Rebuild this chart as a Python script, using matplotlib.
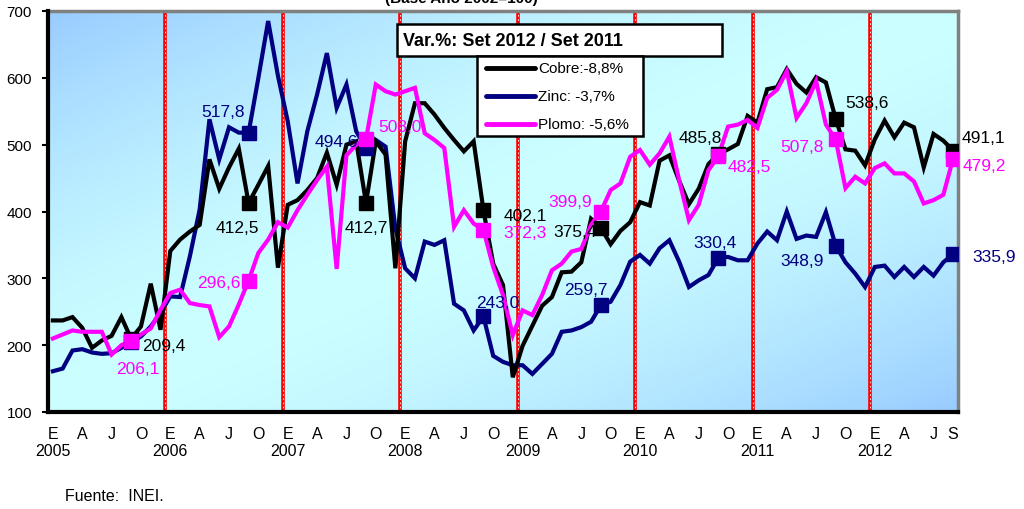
import numpy as np
import matplotlib
matplotlib.use("Agg")
import matplotlib.pyplot as plt
from matplotlib.patches import Rectangle
from matplotlib.lines import Line2D

plt.rcParams['font.family'] = ['Liberation Sans', 'DejaVu Sans']

# ---------------- data ----------------
month_letters = ['E', 'A', 'J', 'O']
years = [2005, 2006, 2007, 2008, 2009, 2010, 2011, 2012]
last_label = 'S'

cobre = [237, 237, 242, 226, 196, 207, 214, 242, 209.4, 228, 292, 223,
         341, 358, 370, 380, 478, 434, 466, 494, 412.5, 440, 468, 316,
         410, 417, 432, 450, 488, 440, 500, 505, 412.7, 505, 485, 315,
         505, 562, 562, 545, 525, 507, 490, 505, 402.1, 322, 290, 152,
         199, 229, 259, 272, 309, 310, 324, 389, 375.4, 351, 371, 384,
         414, 409, 476, 484, 446, 411, 434, 471, 485.8, 493, 501, 543,
         533, 583, 586, 613, 591, 578, 601, 593, 538.6, 493, 491, 469,
         508, 536, 511, 533, 526, 466, 516, 506, 491.1]

zinc = [161, 165, 192, 194, 189, 187, 188, 196, 205, 213, 228, 248,
        273, 272, 333, 403, 538, 478, 526, 518, 517.8, 600, 685, 603,
        535, 442, 520, 575, 637, 555, 590, 520, 494.6, 507, 497, 375,
        315, 300, 355, 350, 357, 262, 252, 222, 243.0, 184, 175, 170,
        170, 157, 172, 187, 220, 222, 227, 235, 259.7, 265, 290, 325,
        335, 322, 345, 357, 325, 287, 297, 305, 330.4, 332, 327, 327,
        352, 370, 357, 400, 359, 364, 362, 399, 348.9, 324, 307, 287,
        317, 319, 302, 317, 302, 317, 304, 324, 335.9]

plomo = [210, 216, 222, 220, 220, 220, 186, 200, 206.1, 216, 225, 253,
         278, 283, 263, 260, 258, 212, 228, 261, 296.6, 338, 358, 384,
         376, 402, 425, 447, 467, 314, 484, 500, 508.0, 590, 580, 575,
         580, 585, 517, 507, 495, 377, 402, 382, 372.3, 317, 275, 215,
         252, 245, 275, 312, 322, 340, 344, 380, 399.9, 432, 442, 482,
         492, 470, 487, 512, 447, 387, 410, 462, 482.5, 527, 530, 537,
         525, 570, 582, 610, 540, 562, 595, 530, 507.8, 435, 452, 442,
         465, 472, 457, 457, 445, 412, 417, 425, 479.2]

series_names = ['Cobre:-8,8%', 'Zinc: -3,7%', 'Plomo: -5,6%']
legend_title = 'Var.%: Set 2012 / Set 2011'
top_title = '(Base Año 2002=100)'
source_text = 'Fuente:  INEI.'

# ---------------- style ----------------
W, H = 1024, 510
col_cobre = '#000000'
col_zinc = '#000080'
col_plomo = '#FF00FF'

fig = plt.figure(figsize=(W / 100, H / 100), dpi=100)
ax = fig.add_axes([48 / W, 97 / H, 910 / W, 401 / H])

n = len(cobre)
x = np.arange(n)
ax.set_xlim(-0.5, n - 0.5)
ax.set_ylim(100, 700)

# gradient background (diagonal: blue - cyan - blue)
gy, gx = np.mgrid[0:1:200j, 0:1:300j]
t = (gx + gy) / 2.0  # gy=0 at top row (imshow origin upper)
c_blue = np.array([0x99, 0xCC, 0xFF]) / 255
c_cyan = np.array([0xCC, 0xFF, 0xFF]) / 255
w = 1 - (np.abs(t - 0.5) * 2) ** 1.6
img = c_blue[None, None, :] * (1 - w[..., None]) + c_cyan[None, None, :] * w[..., None]
ax.imshow(img, extent=(-0.5, n - 0.5, 100, 700), aspect='auto', zorder=0,
          interpolation='bilinear')

# year separators
for k in range(1, len(years)):
    xv = 12 * k - 0.5
    ax.axvline(xv, color='#FF0000', lw=2.6, zorder=1)
    ax.axvline(xv, color='white', lw=0.6, ls=(0, (2, 3)), zorder=1.1)

mk_idx = list(range(8, n, 12))
lw = 3.0
ax.plot(x, zinc, color=col_zinc, lw=lw, zorder=3, solid_joinstyle='miter')
ax.plot(x, cobre, color=col_cobre, lw=lw, zorder=3.2, solid_joinstyle='miter')
ax.plot(x, plomo, color=col_plomo, lw=lw, zorder=3.4, solid_joinstyle='miter')
ax.plot(mk_idx, [zinc[i] for i in mk_idx], 's', color=col_zinc, ms=10.5, zorder=4)
ax.plot(mk_idx, [cobre[i] for i in mk_idx], 's', color=col_cobre, ms=10.5, zorder=4.2)
ax.plot(mk_idx, [plomo[i] for i in mk_idx], 's', color=col_plomo, ms=10.5, zorder=4.4)

# label offsets (dx, dy_down in pixels, ha)
off_cobre = [(11, 7, 'left'), (-11, 24, 'center'), (0, 24, 'center'), (20, 5, 'left'),
             (-4, 4, 'right'), (-18, -17, 'center'), (10, -16, 'left'), (9, -13, 'left')]
off_zinc = [None, (-4, -21, 'right'), (-8, -7, 'right'), (14, -14, 'center'),
            (-15, -16, 'center'), (-3, -16, 'center'), (-12, 15, 'right'), (19, 2, 'left')]
off_plomo = [(7, 27, 'center'), (-8, 2, 'right'), (12, -13, 'left'), (20, 2, 'left'),
             (-9, -10, 'right'), (9, 10, 'left'), (-12, 7, 'right'), (10, 7, 'left')]

def fmt(v):
    return f"{v:.1f}".replace('.', ',')

for data, offs, col in [(cobre, off_cobre, col_cobre), (zinc, off_zinc, col_zinc),
                        (plomo, off_plomo, col_plomo)]:
    for i, o in zip(mk_idx, offs):
        if o is None:
            continue
        dx, dyd, ha = o
        ax.annotate(fmt(data[i]), xy=(i, data[i]), xytext=(dx, -dyd),
                    textcoords='offset pixels', ha=ha, va='center',
                    fontsize=12.5, color=col, zorder=6, annotation_clip=False)

# axes styling
for s in ['left', 'bottom']:
    ax.spines[s].set_color('black')
    ax.spines[s].set_linewidth(3)
for s in ['top', 'right']:
    ax.spines[s].set_color('#808080')
    ax.spines[s].set_linewidth(2.5)
ax.spines['left'].set_zorder(7)
ax.spines['bottom'].set_zorder(7)

ax.set_yticks(range(100, 701, 100))
ax.tick_params(axis='y', direction='out', length=4.5, width=1.5, labelsize=11, pad=7)

xt = list(range(0, n - 2, 3)) + [n - 1]
xl = []
for i in xt[:-1]:
    lab = month_letters[(i % 12) // 3]
    if i % 12 == 0:
        lab += '\n' + str(years[i // 12])
    xl.append(lab)
xl.append(last_label)
ax.set_xticks(xt)
ax.set_xticklabels(xl, fontsize=11.5, linespacing=1.15, va='top')
ax.tick_params(axis='x', length=0, pad=10)

# top title (partially cut, as in the source image)
fig.text(461 / W, 1 - 3 / H, top_title, ha='center', va='baseline',
         fontsize=11, fontweight='bold')

# legend built manually
def fx(px):
    return px / W

def fy(py):
    return 1 - py / H

fig.patches.append(Rectangle((fx(397), fy(57)), fx(722) - fx(397), fy(25) - fy(57),
                             transform=fig.transFigure, facecolor='white',
                             edgecolor='black', lw=1.8, zorder=10))
fig.text(fx(403), fy(41), legend_title, ha='left', va='center', fontsize=13,
         fontweight='bold', zorder=11)
fig.patches.append(Rectangle((fx(477), fy(137)), fx(643) - fx(477), fy(57) - fy(137),
                             transform=fig.transFigure, facecolor='white',
                             edgecolor='black', lw=1.8, zorder=10))
for yy, col, name in zip([69, 97, 125], [col_cobre, col_zinc, col_plomo], series_names):
    fig.lines.append(Line2D([fx(486), fx(535)], [fy(yy), fy(yy)], color=col, lw=3.5,
                            solid_capstyle='round', transform=fig.transFigure, zorder=11))
    fig.text(fx(538), fy(yy), name, ha='left', va='center', fontsize=11, zorder=11)

fig.text(65 / W, 1 - 497 / H, source_text, ha='left', va='center', fontsize=11.5)

fig.savefig('out.png', dpi=100)
